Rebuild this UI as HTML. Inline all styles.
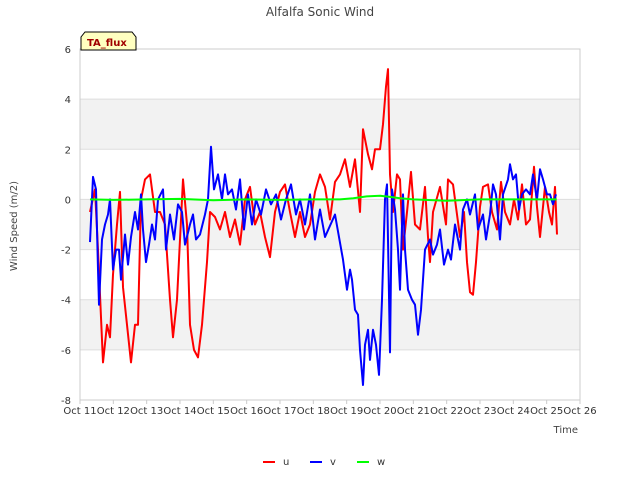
<!DOCTYPE html>
<html><head><meta charset="utf-8"><style>
body{margin:0;background:#fff;font-family:"DejaVu Sans",sans-serif}
</style></head><body>
<svg id="c" width="640" height="480" xmlns="http://www.w3.org/2000/svg" font-family="DejaVu Sans, Liberation Sans, sans-serif">
<text x="320" y="16" text-anchor="middle" font-size="12" fill="#444">Alfalfa Sonic Wind</text>
<g id="bands"></g><g id="grid"></g>
<rect x="80" y="49" width="500" height="351" fill="none" stroke="#ccc"/>
<g id="series"></g><g id="axes"></g>
<text x="17" y="226" transform="rotate(-90 17 226)" text-anchor="middle" font-size="10" fill="#444">Wind Speed (m/2)</text>
<text x="578" y="433" text-anchor="end" font-size="10" fill="#444">Time</text>
<g><path d="M81 50 L81 37 L85 32 L132 32 L136 37 L136 50 Z" fill="#ffffc0" stroke="#000"/><text x="87" y="46" font-size="10" font-weight="bold" fill="#a00000">TA_flux</text></g>
<g id="legend"></g>
</svg>
<script>
const uT=[0.30,0.45,0.54,0.69,0.81,0.90,0.99,1.11,1.20,1.29,1.41,1.53,1.65,1.74,1.83,1.95,2.10,2.25,2.40,2.55,2.70,2.79,2.91,3.09,3.21,3.30,3.42,3.54,3.66,3.81,3.90,4.05,4.20,4.35,4.50,4.65,4.80,4.95,5.10,5.25,5.40,5.55,5.70,5.85,6.00,6.15,6.30,6.45,6.60,6.75,6.90,7.05,7.20,7.35,7.50,7.65,7.80,7.95,8.10,8.25,8.40,8.49,8.64,8.76,8.85,9.00,9.09,9.18,9.24,9.30,9.39,9.51,9.60,9.69,9.81,9.93,10.05,10.20,10.35,10.44,10.50,10.59,10.80,10.98,11.04,11.19,11.31,11.40,11.52,11.61,11.70,11.79,11.88,12.00,12.09,12.24,12.36,12.51,12.63,12.75,12.90,13.02,13.14,13.26,13.38,13.50,13.62,13.71,13.80,13.95,14.07,14.16,14.25,14.31];
const uV=[-0.5,0.4,-2,-6.5,-5,-5.5,-3,-1,0.3,-3.5,-5,-6.5,-5,-5,0,0.8,1,-0.5,-0.5,-1,-4,-5.5,-4,0.8,-1,-5,-6,-6.3,-5,-2.5,-0.5,-0.7,-1.2,-0.5,-1.5,-0.8,-1.8,0,0.5,-1,-0.5,-1.5,-2.3,-0.5,0.3,0.6,-0.5,-1.5,-0.5,-1.5,-1,0.3,1,0.5,-0.8,0.7,1,1.6,0.5,1.6,-0.5,2.8,1.8,1.2,2,2,3,4.5,5.2,1,-0.5,1,0.8,-2,-0.5,1.1,-1,-1.2,0.5,-1.5,-2.5,-0.5,0.5,-1,0.8,0.6,-0.6,-1.5,-0.5,-2.5,-3.7,-3.8,-2.5,-0.3,0.5,0.6,-0.5,-1.2,0.7,-0.5,-1,0,-0.8,0.6,-1,-0.8,1.3,-0.3,-1.5,0.5,-0.5,-1,0.5,-1.4];
const vT=[0.30,0.39,0.48,0.54,0.57,0.66,0.75,0.84,0.90,0.99,1.08,1.17,1.23,1.35,1.44,1.53,1.65,1.74,1.83,1.89,1.98,2.07,2.16,2.25,2.34,2.49,2.58,2.70,2.82,2.94,3.06,3.15,3.30,3.39,3.48,3.60,3.75,3.84,3.93,4.02,4.14,4.26,4.35,4.44,4.56,4.68,4.80,4.92,5.04,5.16,5.28,5.43,5.58,5.73,5.88,6.03,6.18,6.33,6.48,6.60,6.75,6.90,7.05,7.20,7.35,7.65,7.89,8.01,8.10,8.16,8.25,8.34,8.40,8.49,8.55,8.64,8.70,8.79,8.88,8.97,9.06,9.15,9.21,9.24,9.30,9.36,9.45,9.54,9.60,9.69,9.75,9.84,9.96,10.05,10.14,10.23,10.35,10.50,10.59,10.71,10.80,10.92,11.04,11.13,11.25,11.40,11.49,11.61,11.70,11.85,11.94,12.09,12.18,12.30,12.39,12.48,12.60,12.69,12.84,12.90,12.99,13.08,13.17,13.26,13.38,13.50,13.59,13.71,13.80,13.89,14.01,14.10,14.19,14.28];
const vV=[-1.7,0.9,0.4,-2.8,-4.2,-1.6,-1,-0.6,0,-2.8,-2,-2,-3.2,-1.4,-2.6,-1.5,-0.5,-1.2,0.2,-1.2,-2.5,-1.8,-1,-1.6,0,0.4,-2,-0.6,-1.6,-0.2,-0.5,-1.8,-1,-0.6,-1.6,-1.4,-0.6,0,2.1,0.4,1,0,1,0.2,0.4,-0.4,0.8,-1.2,0.2,-1,0,-0.6,0.4,-0.2,0.2,-0.8,0,0.6,-0.6,0,-1,0.2,-1.6,-0.4,-1.5,-0.6,-2.4,-3.6,-2.8,-3.2,-4.4,-4.6,-6,-7.4,-5.8,-5.2,-6.4,-5.2,-5.8,-7,-4,0,0.6,-1.6,-6.1,0.4,-0.4,-2,-3.6,0.2,-2,-3.6,-4,-4.2,-5.4,-4.4,-2,-1.6,-2.2,-1.8,-1.2,-2.6,-2,-2.4,-1,-2,-0.4,0,-0.6,0.2,-1.2,-0.6,-1.6,-0.6,0.6,0.2,-1.6,0.2,0.8,1.4,0.8,1,-0.4,0.2,0.4,0.2,1,0,1.2,0.8,0.2,0.2,-0.2,0.2];
const wT=[0.3,1,2,3,4,5,6,7,7.8,8.2,8.6,9,9.3,9.6,10,11,12,13,14.3];
const wV=[0,-0.02,0,0.02,-0.03,0,-0.02,0,0,0.05,0.12,0.15,0.1,0.05,0,-0.05,0,0,0];
const yTicks=[6,4,2,0,-2,-4,-6,-8];
const xLabels=["Oct 11","Oct 12","Oct 13","Oct 14","Oct 15","Oct 16","Oct 17","Oct 18","Oct 19","Oct 20","Oct 21","Oct 22","Oct 23","Oct 24","Oct 25","Oct 26"];
const NS="http://www.w3.org/2000/svg";
const X=d=>80+d*500/15, Y=v=>49+(6-v)*351/14;
function mk(t,a,p){const e=document.createElementNS(NS,t);for(const k in a)e.setAttribute(k,a[k]);p.appendChild(e);return e;}
const bands=document.getElementById('bands'),grid=document.getElementById('grid'),axes=document.getElementById('axes');
[[4,2],[0,-2],[-4,-6]].forEach(b=>{const r=mk('rect',{x:80,y:Y(b[0]),width:500,height:Y(b[1])-Y(b[0]),fill:'#f2f2f2'},bands);

});
yTicks.forEach(v=>{const l=mk('line',{x1:80,x2:580,y1:Y(v),y2:Y(v),stroke:'#ddd'},grid);


const t=mk('text',{x:71,y:Y(v)+4,'text-anchor':'end','font-size':10,fill:'#333'},axes);t.textContent=v;

});
xLabels.forEach((s,i)=>{const t=mk('text',{x:X(i),y:414,'text-anchor':'middle','font-size':10,fill:'#333'},axes);t.textContent=s;


const l=mk('line',{x1:X(i),x2:X(i),y1:400,y2:404,stroke:'#ccc'},axes);

});
const ser=document.getElementById('series');
[[uT,uV,'#ff0000','u'],[vT,vV,'#0000ff','v'],[wT,wV,'#00ff00','w']].forEach(s=>{
const p=mk('polyline',{points:s[0].map((t,i)=>X(t).toFixed(1)+','+Y(s[1][i]).toFixed(1)).join(' '),fill:'none',stroke:s[2],'stroke-width':2,'stroke-linejoin':'round'},ser);

});
const leg=document.getElementById('legend');
[['u','#ff0000',263],['v','#0000ff',310],['w','#00ff00',357]].forEach(e=>{
const g=mk('g',{},leg);


mk('line',{x1:e[2],x2:e[2]+12,y1:462,y2:462,stroke:e[1],'stroke-width':2},g);
const t=mk('text',{x:e[2]+20,y:465,'font-size':10,fill:'#333'},g);t.textContent=e[0];});
</script>
</body></html>
